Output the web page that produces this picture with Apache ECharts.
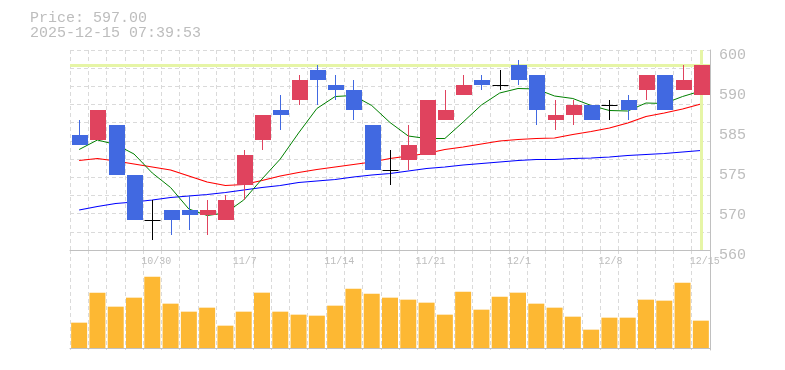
<!DOCTYPE html>
<html>
<head>
<meta charset="utf-8">
<script src="https://cdn.jsdelivr.net/npm/echarts@6/dist/echarts.min.js"></script>
<style>
html,body{margin:0;padding:0;background:#fff;}
#chart{width:785px;height:370px;}
</style>
</head>
<body>
<div id="chart"></div>
<script>
// ---- data ----
const titleLines = ['Price: 597.00', '2025-12-15 07:39:53'];
const categories = ['10/24','10/27','10/28','10/29','10/30','10/31','11/4','11/5','11/6','11/7',
  '11/10','11/11','11/12','11/13','11/14','11/17','11/18','11/19','11/20','11/21',
  '11/25','11/26','11/27','11/28','12/1','12/2','12/3','12/4','12/5','12/8',
  '12/9','12/10','12/11','12/12','12/15'];
const opens  = [583,582,585,575,566,568,568,567,566,573,582,588,590,596,593,592,585,576,578,579,586,591,594,593,597,595,586,587,589,589,590,592,595,592,591];
const closes = [581,588,575,566,566,566,567,568,570,579,587,587,594,594,592,588,576,576,581,590,588,593,593,593,594,588,587,589,586,589,588,595,588,594,597];
const lows   = [581,582,575,566,562,563,564,563,566,570,580,584,589,589,590,586,576,573,576,579,586,591,592,592,593,585,584,585,586,586,586,590,588,592,591];
const highs  = [586,588,585,575,570,568,571,570,571,580,587,591,595,597,595,594,585,580,585,590,592,595,595,596,598,595,590,590,589,590,591,595,595,597,597];
const ma5  = [580.1,582.0,581.1,579.2,575.4,572.5,568.2,566.9,567.4,570.0,574.2,578.2,583.4,588.3,590.7,590.9,588.9,585.5,582.8,582.3,582.3,585.6,589.0,591.4,592.3,592.2,590.8,590.3,588.9,587.9,587.8,589.4,589.3,590.7,591.8];
const ma25 = [577.9,578.3,577.8,577.2,576.6,576.0,574.8,573.6,572.9,573.1,573.9,574.8,575.5,576.1,576.6,577.1,577.6,578.3,578.8,579.3,580.1,580.6,581.2,581.8,582.1,582.3,582.4,583.1,583.7,584.4,585.4,586.7,587.4,588.2,589.2];
const ma75 = [568.0,568.7,569.3,569.6,570.0,570.5,570.8,571.1,571.5,572.0,572.5,572.9,573.5,573.8,574.1,574.6,575.0,575.3,575.8,576.3,576.6,577.0,577.3,577.6,577.9,578.1,578.1,578.3,578.4,578.6,578.9,579.1,579.3,579.6,579.9];
const volumes = [76,166,124,151,214,133,109,121,67,109,166,109,100,97,127,178,163,151,145,136,100,169,115,154,166,133,121,94,55,91,91,145,142,196,82];
const yTickLabels = ['600','590','585','575','570','560'];
const lastPrice = 597;

// ---- styles ----
const UP = '#e0435e', DOWN = '#4169e1', DOJI = '#000000';
const TXT = '#bdbdbd', AXIS = '#c0c0c0', GRIDC = '#dadada';
const FONT = '"Liberation Mono", "DejaVu Sans Mono", monospace';

const candleData = categories.map((c, i) => [i, opens[i], closes[i], lows[i], highs[i]]);

function renderCandle(params, api) {
  const i = api.value(0), o = api.value(1), c = api.value(2), l = api.value(3), h = api.value(4);
  const pO = api.coord([i, o]), pC = api.coord([i, c]), pL = api.coord([i, l]), pH = api.coord([i, h]);
  const w = Math.round(api.size([1, 0])[0] * 0.875);
  const xc = Math.round(pO[0]) + 0.5;
  const color = c > o ? UP : (c < o ? DOWN : DOJI);
  const children = [];
  if (h !== l) {
    children.push({ type: 'line', shape: { x1: xc, y1: pH[1], x2: xc, y2: pL[1] },
      style: { stroke: color, lineWidth: 1 } });
  }
  if (c === o) {
    const y = Math.round(pO[1]) + 0.5;
    children.push({ type: 'line', shape: { x1: xc - w / 2, y1: y, x2: xc + w / 2, y2: y },
      style: { stroke: color, lineWidth: 1 } });
  } else {
    const top = Math.min(pO[1], pC[1]), bot = Math.max(pO[1], pC[1]);
    children.push({ type: 'rect', shape: { x: Math.round(xc - w / 2), y: top, width: w, height: bot - top },
      style: { fill: color } });
  }
  return { type: 'group', children };
}

const chart = echarts.init(document.getElementById('chart'), null, { renderer: 'canvas' });
const dashed = { show: true, lineStyle: { color: GRIDC, type: [4, 3], width: 1 } };

chart.setOption({
  animation: false,
  backgroundColor: '#fff',
  title: {
    text: titleLines.join('\n'),
    left: 30, top: 11, padding: 0,
    textStyle: { fontFamily: FONT, fontSize: 15, fontWeight: 'normal', color: TXT, lineHeight: 15 }
  },
  grid: [
    { left: 70, right: 75, top: 50, height: 200 },
    { left: 70, right: 75, top: 250, height: 100 }
  ],
  xAxis: [
    {
      type: 'category', gridIndex: 0, data: categories, boundaryGap: true,
      axisLine: { show: true, lineStyle: { color: AXIS, width: 1 } },
      axisTick: { show: false },
      splitLine: Object.assign({ interval: 0 }, dashed),
      axisLabel: {
        show: true, margin: 6,
        interval: (idx) => idx % 5 === 4,
        formatter: (v) => '{a|' + v + '}',
        rich: { a: { width: 22, align: 'left', fontFamily: FONT, fontSize: 10, color: TXT } }
      }
    },
    {
      type: 'category', gridIndex: 1, data: categories, boundaryGap: true,
      axisLine: { show: true, lineStyle: { color: AXIS, width: 1 } },
      axisTick: { show: false }, axisLabel: { show: false },
      splitLine: Object.assign({ interval: 0 }, dashed)
    }
  ],
  yAxis: [
    {
      type: 'value', gridIndex: 0, position: 'right', min: 560, max: 600, interval: 8,
      axisLine: { show: true, lineStyle: { color: AXIS, width: 1 } },
      axisTick: { show: false }, splitLine: { show: false },
      axisLabel: {
        margin: 9, fontFamily: FONT, fontSize: 15, color: TXT,
        verticalAlign: 'top', lineHeight: 10,
        formatter: (v) => yTickLabels[Math.round((600 - v) / 8)]
      }
    },
    {
      type: 'value', gridIndex: 0, position: 'left', min: 0, max: 11, interval: 1,
      axisLine: { show: false }, axisTick: { show: false }, axisLabel: { show: false },
      splitLine: dashed
    },
    {
      type: 'value', gridIndex: 1, position: 'right', min: -6, max: 294,
      axisLine: { show: true, lineStyle: { color: AXIS, width: 1 } },
      axisTick: { show: false }, axisLabel: { show: false }, splitLine: { show: false }
    }
  ],
  series: [
    {
      type: 'line', name: 'MA75', xAxisIndex: 0, yAxisIndex: 0, data: ma75, z: 2,
      symbol: 'none', silent: true, lineStyle: { color: '#0000ff', width: 1.2 },
      markLine: {
        silent: true, symbol: ['none', 'none'], animation: false,
        label: { show: false },
        lineStyle: { color: '#e6f5a6', width: 3, type: 'solid' },
        data: [ { yAxis: lastPrice }, { xAxis: categories[categories.length - 1] } ]
      }
    },
    { type: 'line', name: 'MA25', xAxisIndex: 0, yAxisIndex: 0, data: ma25, z: 3,
      symbol: 'none', silent: true, lineStyle: { color: '#ff0000', width: 1.2 } },
    { type: 'line', name: 'MA5', xAxisIndex: 0, yAxisIndex: 0, data: ma5, z: 3,
      symbol: 'none', silent: true, lineStyle: { color: '#008000', width: 1 } },
    {
      type: 'custom', name: 'price', xAxisIndex: 0, yAxisIndex: 0, z: 5,
      renderItem: renderCandle, data: candleData,
      encode: { x: 0, y: [1, 2, 3, 4] }
    },
    {
      type: 'bar', name: 'volume', xAxisIndex: 1, yAxisIndex: 2, data: volumes,
      barWidth: 16, itemStyle: { color: '#fdb833' }, silent: true
    }
  ]
});
</script>
</body>
</html>
